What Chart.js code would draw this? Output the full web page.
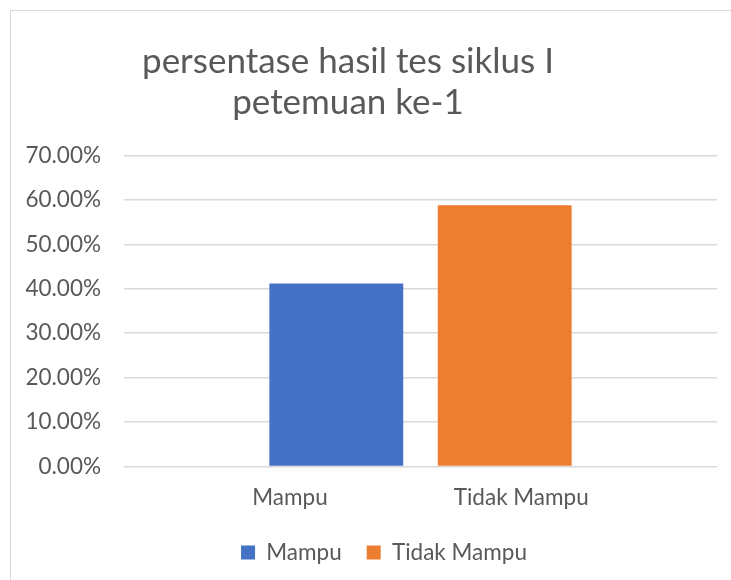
<!DOCTYPE html>
<html>
<head>
<meta charset="utf-8">
<script src="https://cdn.jsdelivr.net/npm/chart.js@4.4.1/dist/chart.umd.min.js"></script>
<style>
  html, body { margin: 0; padding: 0; background: #fff; }
  body { width: 731px; height: 580px; position: relative; overflow: hidden; }
  .frame { position: absolute; left: 10px; top: 10px; width: 800px; height: 700px;
           border-left: 1px solid #d9d9d9; border-top: 1px solid #d9d9d9; }
  .wrap { position: absolute; left: 0; top: 0; width: 731px; height: 580px; }
</style>
</head>
<body>
<div class="frame"></div>
<div class="wrap"><canvas id="chart" width="731" height="580"></canvas></div>
<script>
const categories = ['Mampu', 'Tidak Mampu'];
const mampu = [41.18];
const tidakMampu = [58.82];
const yMax = 70;
const yStep = 10;
const titleLines = ['persentase hasil tes siklus I', 'petemuan ke-1'];

const FONT = 'Lato, "Noto Sans", sans-serif';
const textColor = '#595959';
const gridColor = '#d9d9d9';
const labelSize = 22.5;

// Excel shows both series in one category, with the two names spread under the bars
function spacedLabel(left, right, centerGap, size) {
  const ctx = document.createElement('canvas').getContext('2d');
  ctx.font = size + 'px ' + FONT;
  const wl = ctx.measureText(left).width;
  const wr = ctx.measureText(right).width;
  const sp = ctx.measureText('\u00a0').width;
  const gap = centerGap - (wl + wr) / 2;
  return left + '\u00a0'.repeat(Math.max(1, Math.round(gap / sp))) + right;
}

// title and legend are not centred on the same line in the original
const boxShift = {
  id: 'boxShift',
  afterLayout(chart) {
    const t = chart.titleBlock;
    if (t) { t.left -= 10.5; t.right -= 10.5; }
    const l = chart.legend;
    if (l) { l.left += 25.5; l.right += 25.5; }
  }
};

new Chart(document.getElementById('chart'), {
  type: 'bar',
  data: {
    labels: [spacedLabel(categories[0], categories[1], 230, labelSize)],
    datasets: [
      { label: categories[0], data: mampu, backgroundColor: '#4472C4',
        barPercentage: 0.795, categoryPercentage: 0.568 },
      { label: categories[1], data: tidakMampu, backgroundColor: '#ED7D31',
        barPercentage: 0.795, categoryPercentage: 0.568 }
    ]
  },
  options: {
    responsive: false,
    animation: false,
    layout: { padding: { left: 0, right: 14, top: 0, bottom: 6.25 } },
    plugins: {
      title: {
        display: true,
        text: titleLines,
        color: textColor,
        font: { family: FONT, size: 35, weight: 'normal', lineHeight: 41 / 35 },
        padding: { top: 41.5, bottom: 32.2 }
      },
      legend: {
        position: 'bottom',
        labels: { boxWidth: 14, boxHeight: 14, color: textColor,
                  font: { family: FONT, size: labelSize }, padding: 25 }
      },
      tooltip: { enabled: false }
    },
    scales: {
      x: {
        grid: { display: false },
        border: { display: false },
        ticks: { color: textColor, font: { family: FONT, size: labelSize }, padding: 10 },
        afterFit: s => { s.height = 49.85; }
      },
      y: {
        min: 0,
        max: yMax,
        ticks: { stepSize: yStep, color: textColor, font: { family: FONT, size: labelSize },
                 padding: 23, callback: v => v.toFixed(2) + '%' },
        grid: { color: gridColor, lineWidth: 1.5, drawTicks: false },
        border: { display: false },
        afterFit: s => { s.width = 124; }
      }
    }
  },
  plugins: [boxShift]
});
</script>
</body>
</html>
